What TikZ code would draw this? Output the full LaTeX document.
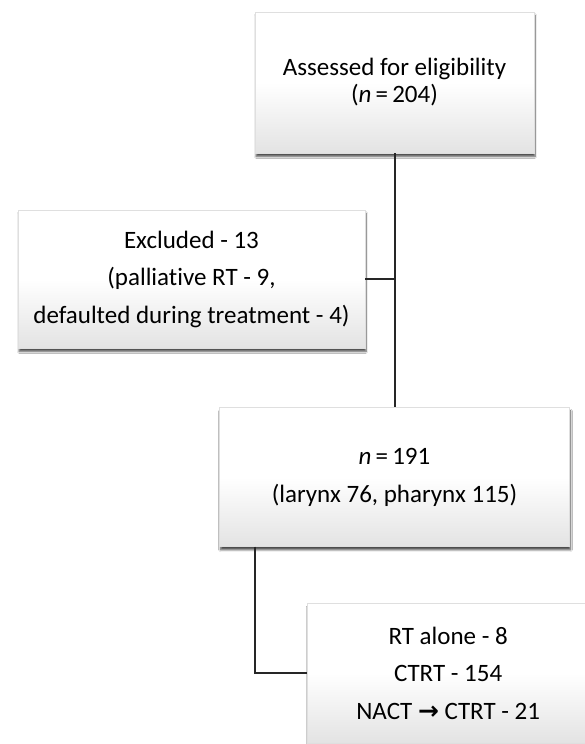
\documentclass[tikz,border=0pt]{standalone}
\usepackage{fontspec}
\setmainfont[Ligatures=NoCommon]{Carlito}
\newfontfamily\arrowfont{DejaVu Sans}
\usepackage{tikz}
\usetikzlibrary{positioning,shadows.blur}

\tikzset{
	box/.style={rectangle, draw=gray!25, top color=white, bottom color=gray!22, middle color=white,
		blur shadow={shadow xshift=1pt, shadow yshift=-3.5pt, shadow blur steps=6, shadow opacity=70},
		align=center, font=\fontsize{25}{27}\selectfont, inner sep=0pt},
	link/.style={line width=2pt, black!85},
}

\begin{document}
\begin{tikzpicture}[x=1pt,y=1pt]
		\clip (0,0) rectangle (585,-744);
		\fill[white] (0,0) rectangle (585,-744);
		\node[box, minimum width=279pt, minimum height=141pt] (assess) at (394.5,-82.5) {Assessed for eligibility\\(\textit{n}\,=\,204)};
		\node[box, minimum width=347pt, minimum height=138pt] (excl) at (191.5,-279) {Excluded - 13\\[10.5pt](palliative RT - 9,\\[10.5pt]defaulted during treatment - 4)};
		\node[box, minimum width=350pt, minimum height=139pt, below=254pt of assess] (total) {\textit{n}\,=\,191\\[11pt](larynx 76, pharynx 115)};
		\node[box, minimum width=282pt, minimum height=140pt, anchor=north west] (treat) at (307,-603) {RT alone - 8\\[10.5pt]CTRT - 154\\[10.5pt]NACT {\arrowfont\bfseries →} CTRT - 21};
		\coordinate (split) at ([xshift=-140pt]total.south);
		\draw[link] (assess.south) -- (total.north);
		\draw[link] (excl.east) -- (excl.east -| assess.south);
		\draw[link] (split) |- (treat.west);
	\end{tikzpicture}
\end{document}
